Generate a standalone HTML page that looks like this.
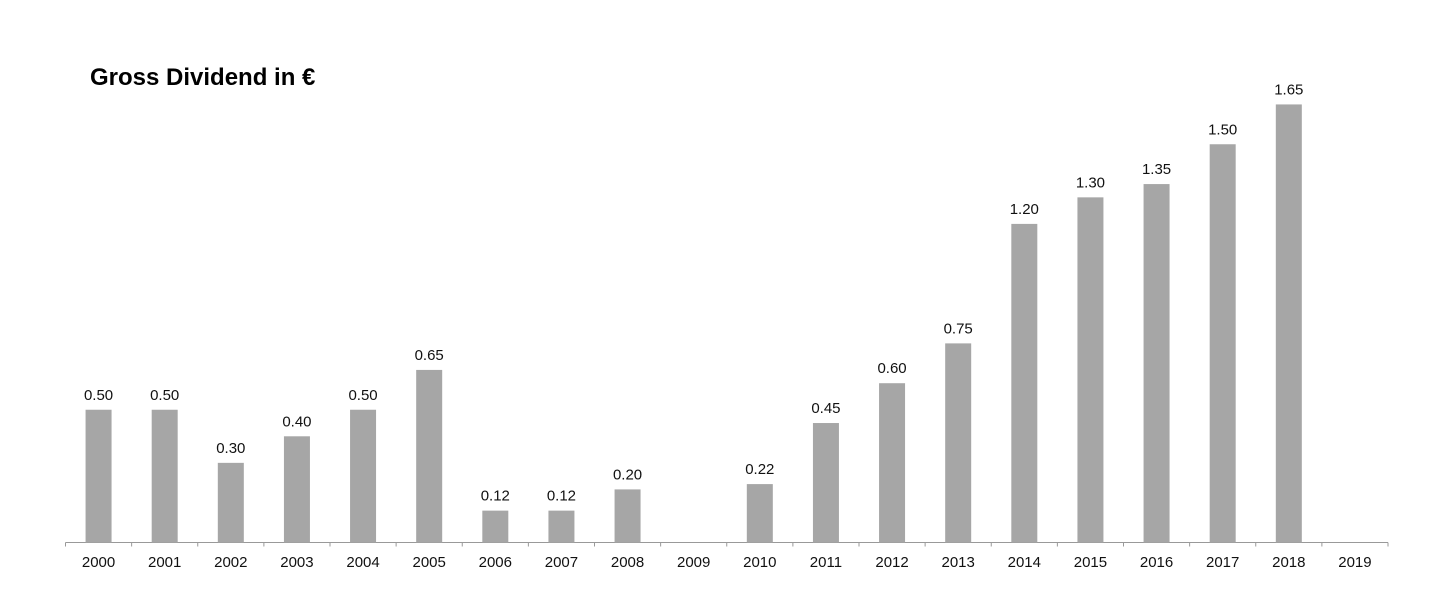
<!DOCTYPE html>
<html><head><meta charset="utf-8"><style>
html,body{margin:0;padding:0;background:#fff;}
svg{display:block;font-family:"Liberation Sans",Arial,sans-serif;}
</style></head><body>
<svg id="chart" width="1439" height="609">
<text x="90" y="85" font-size="24" font-weight="bold" fill="#000">Gross Dividend in €</text>
<g id="bars"></g>
</svg>
<script>
const categories=["2000","2001","2002","2003","2004","2005","2006","2007","2008","2009","2010","2011","2012","2013","2014","2015","2016","2017","2018","2019"];
const values=[0.50,0.50,0.30,0.40,0.50,0.65,0.12,0.12,0.20,null,0.22,0.45,0.60,0.75,1.20,1.30,1.35,1.50,1.65,null];
const valueLabels=["0.50","0.50","0.30","0.40","0.50","0.65","0.12","0.12","0.20","","0.22","0.45","0.60","0.75","1.20","1.30","1.35","1.50","1.65",""];
const NS="http://www.w3.org/2000/svg";
const g=document.getElementById('bars');
const x0=65.5,x1=1388,base=542.5,step=(x1-x0)/categories.length,bw=26;
const yScale=v=>base-v*265.5;
const xc=i=>x0+step*(i+0.5);
function mk(t,a){const e=document.createElementNS(NS,t);for(const k in a)e.setAttribute(k,a[k]);g.appendChild(e);return e;}
const ax=mk('line',{x1:x0,x2:x1,y1:base,y2:base,stroke:'#999','stroke-width':1});


for(let i=0;i<=categories.length;i++){
  const t=mk('line',{x1:x0+step*i,x2:x0+step*i,y1:base,y2:base+4,stroke:'#999','stroke-width':1});
  
  
}
categories.forEach((c,i)=>{
  const v=values[i];
  if(v!=null){
    const r=mk('rect',{x:xc(i)-bw/2,y:yScale(v),width:bw,height:base-yScale(v),fill:'#a6a6a6'});
    
    
    const l=mk('text',{x:xc(i),y:yScale(v)-10,'text-anchor':'middle','font-size':15,fill:'#111'});
    l.textContent=valueLabels[i];
    
    
  }
  const t=mk('text',{x:xc(i),y:567,'text-anchor':'middle','font-size':15,fill:'#111'});
  t.textContent=c;
  
  
});
</script>
</body></html>
